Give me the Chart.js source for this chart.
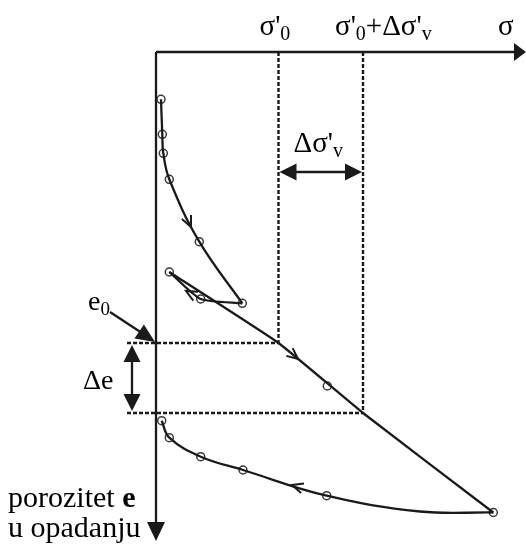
<!DOCTYPE html>
<html><head><meta charset="utf-8">
<script src="https://cdn.jsdelivr.net/npm/chart.js@4/dist/chart.umd.min.js"></script>
<style>html,body{margin:0;padding:0;background:#fff;}canvas{display:block;}</style>
</head><body>
<canvas id="c" width="526" height="548"></canvas>
<script>
// Schematic units: σ to the right of the e-axis, e-drop downward from the σ-axis
const sigma0 = 122.5;        // σ'0
const sigma1 = 207;          // σ'0 + Δσ'v
const e0 = 291;              // e0
const e1 = 361;              // e0 - Δe
const sigmaEnd = 370;        // end of σ axis
const eEnd = 489;            // end of e axis

// loading (virgin) branch
const loadSigma = [5, 6.3, 7.3, 13.3, 43.3, 86.3];
const loadE     = [47.3, 82.3, 101.3, 127.3, 189.7, 251.3];
// first unloading (small loop)
const unload1Sigma = [86.3, 44.7, 13.3];
const unload1E     = [251.3, 247, 220];
// reloading and further loading
const reloadSigma = [13.3, 122.5, 207, 337.3];
const reloadE     = [220, 291, 361, 460.5];
// final unloading
const unload2Sigma = [337.3, 264, 170.7, 87, 44.7, 13.3, 5.7];
const unload2E     = [460.5, 459.5, 443.7, 418, 404.7, 385.7, 368.7];
// measured points (circles)
const markSigma = [5, 6.3, 7.3, 13.3, 43.3, 86.3, 44.7, 13.3, 171.3, 337.3, 170.7, 87, 44.7, 13.3, 5.7];
const markE     = [47.3, 82.3, 101.3, 127.3, 189.7, 251.3, 247, 220, 334, 460.5, 443.7, 418, 404.7, 385.7, 368.7];

// texts
const labelSigma0 = [["σ'", "n"], ["0", "s"]];
const labelSigma1 = [["σ'", "n"], ["0", "s"], ["+Δσ'", "n"], ["v", "s"]];
const labelSigma  = [["σ", "n"]];
const labelDSigma = [["Δσ'", "n"], ["v", "s"]];
const labelE0     = [["e", "n"], ["0", "s"]];
const labelDE     = [["Δe", "n"]];
const labelAxisE1 = [["porozitet ", "n"], ["e", "b"]];
const labelAxisE2 = [["u opadanju", "n"]];

const INK = '#1a1a1a';
const pts = (xs, ys) => xs.map((v, i) => ({x: v, y: ys[i]}));
const line = (data, extra) => Object.assign({data, showLine: true, borderColor: INK, borderWidth: 2.3, pointRadius: 0, fill: false}, extra || {});
const DASH = {borderDash: [4, 2], borderWidth: 2.4};

const datasets = [
  line([{x: 0, y: 0}, {x: sigmaEnd - 4, y: 0}]),
  line([{x: 0, y: 0}, {x: 0, y: eEnd - 4}]),
  line([{x: sigma0, y: 0}, {x: sigma0, y: e0}], DASH),
  line([{x: sigma1, y: 0}, {x: sigma1, y: e1}], DASH),
  line([{x: -29, y: e0}, {x: sigma0, y: e0}], DASH),
  line([{x: -29, y: e1}, {x: sigma1, y: e1}], DASH),
  line([{x: sigma0 + 8, y: 120}, {x: sigma1 - 8, y: 120}]),
  line([{x: -24, y: e0 + 8}, {x: -24, y: e1 - 8}]),
  line([{x: -46, y: 260}, {x: -8, y: 285}]),
  line(pts(loadSigma, loadE), {tension: 0.4}),
  line(pts(unload1Sigma, unload1E), {tension: 0.2}),
  line(pts(reloadSigma, reloadE), {tension: 0.12}),
  line(pts(unload2Sigma, unload2E), {tension: 0.4}),
  {data: pts(markSigma, markE), showLine: false, pointRadius: 4, pointBackgroundColor: '#fff', pointBorderColor: '#3a3a3a', pointBorderWidth: 1.5}
];

// arrowheads: [tipσ, tipE, fromσ, fromE, length, halfWidth]
const heads = [
  [sigmaEnd, 0, 0, 0, 12, 9],
  [0, eEnd, 0, 0, 19, 9],
  [sigma0 + 1, 120, sigma1, 120, 17, 8.5],
  [sigma1 - 1, 120, sigma0, 120, 17, 8.5],
  [-24, e0 + 2, -24, e1, 17, 8.5],
  [-24, e1 - 2, -24, e0, 17, 8.5],
  [-1, 290, -46, 260, 19, 8.5]
];
// small direction chevrons on curves: [σ, e, fromσ, fromE]
const chevrons = [
  [35, 175, 13.3, 127.3],
  [30, 239, 44.7, 247],
  [142, 307, 122.5, 291],
  [136, 433, 170.7, 443.7]
];

const FONT = '"Liberation Serif", "DejaVu Serif", serif';
function rich(ctx, segs, x, y, size) {
  const sub = Math.round(size * 0.68);
  for (const [t, k] of segs) {
    if (k === 's') { ctx.font = sub + 'px ' + FONT; ctx.fillText(t, x, y + 5); }
    else if (k === 'b') { ctx.font = 'bold ' + size + 'px ' + FONT; ctx.fillText(t, x, y); }
    else { ctx.font = size + 'px ' + FONT; ctx.fillText(t, x, y); }
    x += ctx.measureText(t).width;
  }
}

const overlay = {
  id: 'overlay',
  afterDatasetsDraw(chart) {
    const {ctx} = chart;
    const X = chart.scales.x, Y = chart.scales.y;
    const P = (s, e) => [X.getPixelForValue(s), Y.getPixelForValue(e)];
    ctx.save();
    ctx.fillStyle = INK; ctx.strokeStyle = INK;
    for (const [ts, te, fs, fe, len, hw] of heads) {
      const [tx, ty] = P(ts, te), [fx, fy] = P(fs, fe);
      const d = Math.hypot(tx - fx, ty - fy), ux = (tx - fx) / d, uy = (ty - fy) / d;
      const bx = tx - ux * len, by = ty - uy * len;
      ctx.beginPath();
      ctx.moveTo(tx, ty);
      ctx.lineTo(bx - uy * hw, by + ux * hw);
      ctx.lineTo(bx + uy * hw, by - ux * hw);
      ctx.closePath(); ctx.fill();
    }
    ctx.lineWidth = 2;
    for (const [s, e, fs, fe] of chevrons) {
      const [tx, ty] = P(s, e), [fx, fy] = P(fs, fe);
      const d = Math.hypot(tx - fx, ty - fy), ux = (tx - fx) / d, uy = (ty - fy) / d;
      const L = 11, W = 5;
      ctx.beginPath();
      ctx.moveTo(tx - ux * L - uy * W, ty - uy * L + ux * W);
      ctx.lineTo(tx, ty);
      ctx.lineTo(tx - ux * L + uy * W, ty - uy * L - ux * W);
      ctx.stroke();
    }
    ctx.fillStyle = '#000';
    ctx.textBaseline = 'alphabetic';
    const [s0x, topY] = P(sigma0, 0);
    const [s1x] = P(sigma1, 0);
    const [endX] = P(sigmaEnd, 0);
    rich(ctx, labelSigma0, s0x - 19, topY - 17, 29);
    rich(ctx, labelSigma1, s1x - 28, topY - 17, 29);
    rich(ctx, labelSigma, endX - 28, topY - 17, 29);
    const [, dsY] = P(0, 120);
    rich(ctx, labelDSigma, s0x + 15, dsY - 20, 29);
    const [ax, e0y] = P(0, e0);
    const [, e1y] = P(0, e1);
    rich(ctx, labelE0, ax - 68, e0y - 33, 28);
    rich(ctx, labelDE, ax - 73, (e0y + e1y) / 2 + 11, 28);
    rich(ctx, labelAxisE1, 8, 507, 30);
    rich(ctx, labelAxisE2, 8, 537, 30);
    ctx.restore();
  }
};

new Chart(document.getElementById('c'), {
  type: 'scatter',
  data: {datasets},
  options: {
    responsive: false, animation: false, devicePixelRatio: 1,
    layout: {padding: 0, autoPadding: false},
    plugins: {legend: {display: false}, tooltip: {enabled: false}},
    scales: {
      x: {type: 'linear', display: false, min: -156, max: 370},
      y: {type: 'linear', display: false, reverse: true, min: -52, max: 496}
    }
  },
  plugins: [overlay]
});
</script>
</body></html>
